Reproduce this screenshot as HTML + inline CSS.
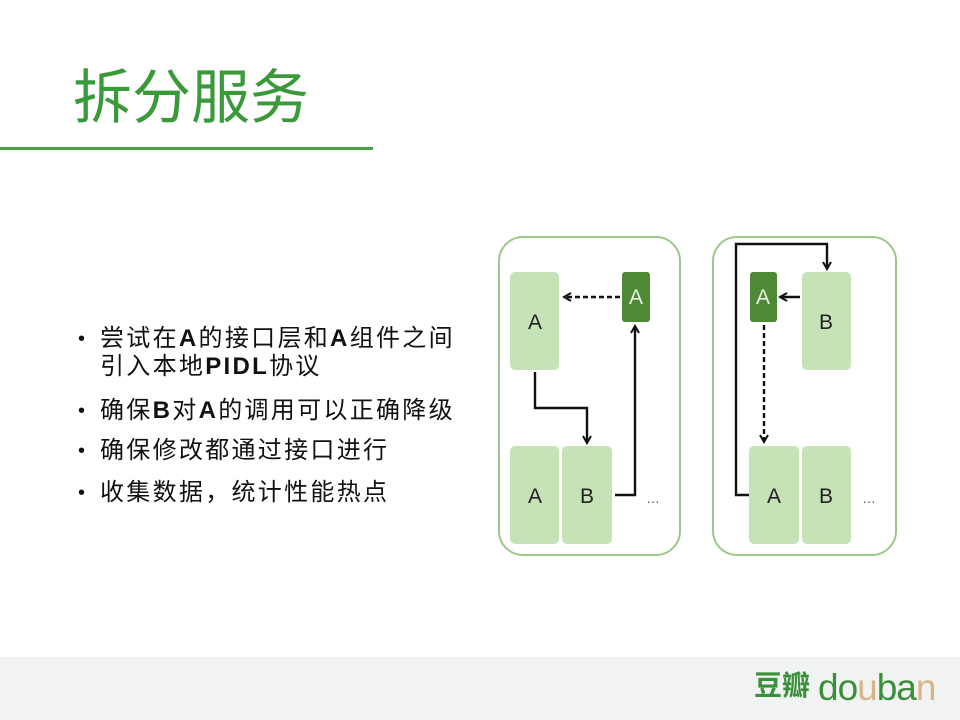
<!DOCTYPE html>
<html><head><meta charset="utf-8"><style>
html,body{margin:0;padding:0;}
body{width:960px;height:720px;position:relative;background:#fff;overflow:hidden;font-family:"Liberation Sans","Noto Sans CJK SC",sans-serif;}
.title{position:absolute;left:73px;top:63px;font-size:59px;color:#3a9a3a;font-family:"Liberation Sans","Noto Sans CJK SC",sans-serif;line-height:70px;}
.rule{position:absolute;left:0;top:147px;width:373px;height:3px;background:#4aa04a;}
.b{position:absolute;left:78px;font-size:24px;color:#111;line-height:28px;letter-spacing:2.3px;white-space:nowrap;}
.b span{position:absolute;left:0;font-size:20px;}
.b div{margin-left:22px;}
.foot{position:absolute;left:0;top:657px;width:960px;height:63px;background:#f1f3f2;}
</style></head><body>
<div class="title">拆分服务</div>
<div class="rule"></div>
<div class="b" style="top:325px"><span>•</span><div>尝试在<b>A</b>的接口层和<b>A</b>组件之间<br>引入本地<b>PIDL</b>协议</div></div>
<div class="b" style="top:397px"><span>•</span><div>确保<b>B</b>对<b>A</b>的调用可以正确降级</div></div>
<div class="b" style="top:437px"><span>•</span><div>确保修改都通过接口进行</div></div>
<div class="b" style="top:479px"><span>•</span><div>收集数据，统计性能热点</div></div>
<svg width="960" height="720" style="position:absolute;left:0;top:0" font-family="Liberation Sans,sans-serif">
<defs><marker id="ah" markerWidth="10" markerHeight="10" refX="8" refY="5" orient="auto" markerUnits="userSpaceOnUse"><path d="M1,1 L8,5 L1,9" fill="none" stroke="#111" stroke-width="2"/></marker></defs>
<rect x="499" y="237" width="181" height="318" rx="24" fill="#fff" stroke="#9cc98a" stroke-width="2"/>
<rect x="713" y="237" width="183" height="318" rx="24" fill="#fff" stroke="#9cc98a" stroke-width="2"/>
<g fill="#c6e2b7">
<rect x="510" y="272" width="49" height="98" rx="5"/>
<rect x="510" y="446" width="49" height="98" rx="5"/>
<rect x="562" y="446" width="50" height="98" rx="5"/>
<rect x="802" y="272" width="49" height="98" rx="5"/>
<rect x="749" y="446" width="50" height="98" rx="5"/>
<rect x="802" y="446" width="49" height="98" rx="5"/>
</g>
<rect x="622" y="272" width="28" height="50" rx="3" fill="#4e8a35"/>
<rect x="750" y="272" width="27" height="50" rx="3" fill="#4e8a35"/>
<g font-size="21" text-anchor="middle" fill="#222">
<text x="535" y="329">A</text><text x="535" y="503">A</text><text x="587" y="503">B</text>
<text x="826" y="329">B</text><text x="774" y="503">A</text><text x="826" y="503">B</text>
<text x="636" y="304" fill="#e8f3e0">A</text><text x="763" y="304" fill="#e8f3e0">A</text>
</g>
<g font-size="14" fill="#555"><text x="646" y="503">…</text><text x="862" y="503">…</text></g>
<g fill="none" stroke="#111" stroke-width="2.4">
<path d="M620,297 H564" stroke-dasharray="5,3" marker-end="url(#ah)"/>
<path d="M535,372 V408 H587 V443" marker-end="url(#ah)"/>
<path d="M615,495 H635 V326" marker-end="url(#ah)"/>
<path d="M749,495 H736 V244 H827 V269" marker-end="url(#ah)"/>
<path d="M800,297 H780" marker-end="url(#ah)"/>
<path d="M764,325 V442" stroke-dasharray="5,3" marker-end="url(#ah)"/>
</g>
</svg>
<div class="foot"></div>
<div style="position:absolute;left:754px;top:668px;font-size:28px;font-weight:bold;color:#3a8f3a;font-family:'Liberation Sans','Noto Sans CJK SC',sans-serif;line-height:36px;">豆瓣</div>
<div style="position:absolute;left:818px;top:666px;font-size:37px;line-height:44px;font-family:'Liberation Sans',sans-serif;letter-spacing:-1px;"><span style="color:#3a8f3a">do</span><span style="color:#d9b48a">u</span><span style="color:#3a8f3a">ba</span><span style="color:#d9b48a">n</span></div>
</body></html>
